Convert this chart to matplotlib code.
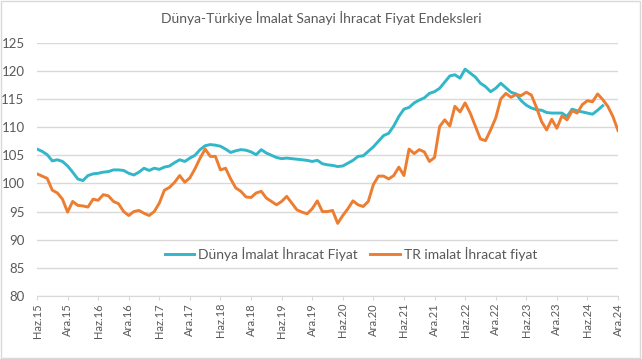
import matplotlib
matplotlib.use("Agg")
import matplotlib.pyplot as plt
from matplotlib.patches import Rectangle

# months Haz.15 (Jun 2015) ... Ara.24 (Dec 2024)
dunya = [106.1, 105.7, 105.1, 104.0, 104.2, 103.9, 103.1, 102.0, 100.8, 100.5,
         101.4, 101.7, 101.8, 102.0, 102.1, 102.4, 102.4, 102.3, 101.8, 101.5,
         102.0, 102.7, 102.3, 102.7, 102.5, 102.9, 103.1, 103.7, 104.2, 103.9,
         104.5, 105.0, 106.0, 106.7, 106.9, 106.8, 106.6, 106.1, 105.5, 105.8,
         106.0, 105.9, 105.6, 105.1, 106.0, 105.4, 105.0, 104.6, 104.4, 104.5,
         104.4, 104.3, 104.2, 104.1, 103.9, 104.1, 103.5, 103.3, 103.2, 103.0,
         103.1, 103.6, 104.1, 104.8, 104.9, 105.7, 106.5, 107.5, 108.5, 108.9,
         110.2, 111.9, 113.2, 113.5, 114.3, 114.8, 115.2, 116.0, 116.3, 116.9,
         118.0, 119.1, 119.3, 118.7, 120.3, 119.6, 118.9, 117.8, 117.2, 116.3,
         116.9, 117.8, 117.0, 116.2, 115.9, 114.7, 113.9, 113.4, 113.1, 113.0,
         112.6, 112.5, 112.5, 112.5, 111.9, 113.2, 112.9, 112.7, 112.5, 112.3,
         113.0, 113.8]

tr = [101.7, 101.3, 100.9, 98.8, 98.3, 97.2, 94.9, 96.8, 96.1, 96.0,
      95.8, 97.2, 97.0, 98.0, 97.8, 96.8, 96.4, 95.0, 94.3, 95.0,
      95.2, 94.7, 94.3, 95.0, 96.5, 98.8, 99.3, 100.2, 101.4, 100.2,
      101.0, 102.6, 104.5, 106.1, 104.8, 104.8, 102.4, 102.7, 100.8, 99.2,
      98.6, 97.6, 97.5, 98.3, 98.6, 97.4, 96.8, 96.2, 96.8, 97.7,
      96.5, 95.3, 94.9, 94.6, 95.5, 96.9, 95.0, 95.0, 95.2, 92.9,
      94.3, 95.5, 96.9, 96.2, 95.9, 96.8, 99.8, 101.3, 101.3, 100.8,
      101.4, 102.9, 101.4, 106.1, 105.3, 106.0, 105.6, 103.9, 104.6, 110.1,
      111.3, 110.2, 113.7, 112.7, 114.3, 112.5, 110.2, 107.9, 107.6, 109.5,
      111.6, 115.0, 116.0, 115.3, 115.8, 115.6, 116.2, 115.7, 113.5, 111.0,
      109.5, 111.4, 109.8, 112.0, 111.3, 112.9, 112.5, 114.0, 114.7, 114.5,
      115.9, 114.9, 113.7, 111.9, 109.4]

tick_labels = []
for yy in range(15, 25):
    tick_labels += ["Haz.%d" % yy, "Ara.%d" % yy]

blue = "#31b7c9"
orange = "#ed7d31"
gray = "#595959"

plt.rcParams["font.family"] = ["Lato", "DejaVu Sans"]

fig = plt.figure(figsize=(6.42, 3.59), dpi=100)
W, H = 642, 359
ax = fig.add_axes([37 / W, 1 - 296 / H, (618 - 37) / W, (296 - 42.7) / H])

ax.plot(range(len(dunya)), dunya, color=blue, lw=2.1, label="Dünya İmalat İhracat Fiyat",
        solid_joinstyle="round")
ax.plot(range(len(tr)), tr, color=orange, lw=2.1, label="TR imalat İhracat fiyat",
        solid_joinstyle="round")

ax.set_xlim(0, 114)
ax.set_ylim(80, 125)
ax.set_yticks(range(80, 126, 5))
ax.set_xticks(range(0, 115, 6))
ax.set_xticklabels(tick_labels, rotation=90, fontsize=8, color=gray)
ax.tick_params(axis="y", length=0, labelsize=9.5, labelcolor=gray, pad=9)
ax.tick_params(axis="x", length=3, color="#d9d9d9", pad=2)
ax.grid(axis="y", color="#d9d9d9", lw=1)
ax.set_axisbelow(True)
for s in ["top", "right", "left"]:
    ax.spines[s].set_visible(False)
ax.spines["bottom"].set_color("#d9d9d9")

fig.text(321 / W, 1 - 18 / H, "Dünya-Türkiye İmalat Sanayi İhracat Fiyat Endeksleri",
         ha="center", va="center", fontsize=10, color=gray)

ax.legend(loc="center", bbox_to_anchor=(351 / W, 1 - 254 / H), bbox_transform=fig.transFigure,
          ncol=2, frameon=False, fontsize=10, labelcolor=gray, handlelength=2.1,
          columnspacing=0.9, handletextpad=0.3)

fig.patches.append(Rectangle((0.002, 0.003), 0.995, 0.994, transform=fig.transFigure,
                             fill=False, edgecolor="#d9d9d9", lw=1))

fig.savefig("out.png", dpi=100)
